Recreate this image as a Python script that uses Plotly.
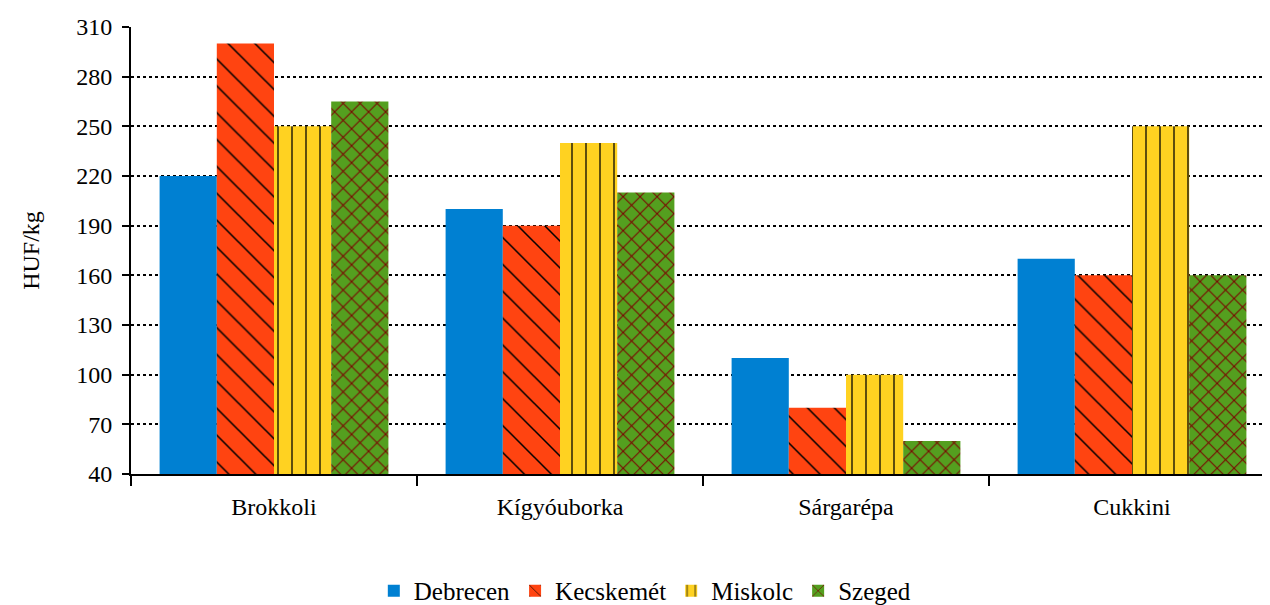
import plotly.graph_objects as go

categories = ["Brokkoli", "Kígyóuborka", "Sárgarépa", "Cukkini"]
debrecen = [220, 200, 110, 170]
kecskemet = [300, 190, 80, 160]
miskolc = [250, 240, 100, 250]
szeged = [265, 210, 60, 160]
series_names = ["Debrecen", "Kecskemét", "Miskolc", "Szeged"]
y_ticks = [40, 70, 100, 130, 160, 190, 220, 250, 280, 310]

styles = [
    dict(bg="#0080D2", shape="", fg="#0080D2", size=10, sol=0.1),
    dict(bg="#FF4411", shape="\\", fg="#000000", size=19, sol=0.08),
    dict(bg="#FFD221", shape="|", fg="#000000", size=14, sol=0.09),
    dict(bg="#549F1F", shape="x", fg="#7A0000", size=12, sol=0.16),
]

fig = go.Figure()
for name, vals, st in zip(series_names, [debrecen, kecskemet, miskolc, szeged], styles):
    fig.add_trace(go.Bar(
        x=categories, y=vals, name=name,
        marker=dict(
            color=st["bg"], line=dict(width=0),
            pattern=dict(shape=st["shape"], fgcolor=st["fg"], bgcolor=st["bg"],
                         size=st["size"], solidity=st["sol"], fillmode="replace"),
        ),
    ))

font = "Liberation Serif"
fs = 24
fig.update_layout(
    width=1262, height=597,
    margin=dict(l=123, r=0, t=19, b=131),
    barmode="group", bargap=0.2, bargroupgap=0,
    plot_bgcolor="white", paper_bgcolor="white",
    font=dict(family=font, size=fs, color="black"),
    showlegend=True,
    legend=dict(orientation="h", xref="container", yref="container",
                x=0.505, xanchor="center", y=0.0235, yanchor="middle",
                font=dict(family=font, size=25), traceorder="normal"),
    xaxis=dict(range=[-0.5, -0.5 + 1139 / 286], showline=True, linecolor="black", linewidth=2,
               ticks="outside", tickson="boundaries", ticklen=10, tickwidth=2, tickcolor="black",
               ticklabelstandoff=10,
               showgrid=False, tickfont=dict(family=font, size=fs)),
    yaxis=dict(range=[40, 310], tickvals=y_ticks, showline=True, linecolor="black", linewidth=2,
               ticks="outside", ticklen=7, tickwidth=2, tickcolor="black",
               ticklabelstandoff=5,
               showgrid=True, gridcolor="black", gridwidth=2, griddash="dot",
               zeroline=False, tickfont=dict(family=font, size=fs),
               title=dict(text="HUF/kg", font=dict(family=font, size=fs), standoff=30)),
)
fig.write_html("out.html")
